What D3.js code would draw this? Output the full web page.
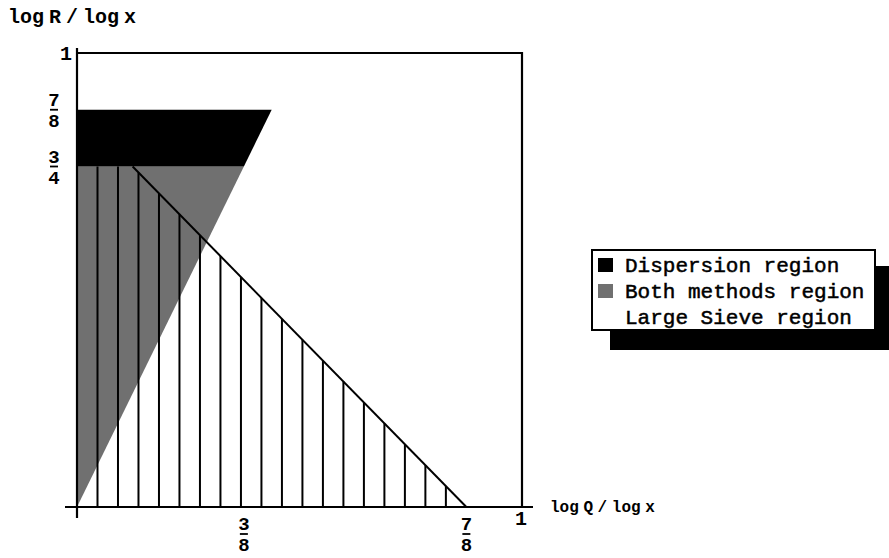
<!DOCTYPE html>
<html>
<head>
    <title>Dispersion / Large Sieve regions</title>
    <script src="https://d3js.org/d3.v7.min.js" type="text/javascript"></script>
    <style type="text/css">
        body { margin: 0; background: #fff; }
        text { font-family: "Liberation Mono", "DejaVu Sans Mono", monospace; fill: #000; }
    </style>
</head>
<body>
<div id="chart"></div>
<script type="text/javascript">
    // tick values and their labels (fractions are [numerator, denominator])
    var xTickValues = [3/8, 7/8, 1];
    var xTickLabels = [["3", "8"], ["7", "8"], ["1"]];
    var yTickValues = [3/4, 7/8, 1];
    var yTickLabels = [["3", "4"], ["7", "8"], ["1"]];

    // regions in (logQ/logx, logR/logx)
    var dispersionRegion = [[0, 3/4], [3/8, 3/4], [7/16, 7/8], [0, 7/8]];
    var bothRegion = [[0, 0], [3/8, 3/4], [0, 3/4]];
    var sieveEdge = [[1/8, 3/4], [7/8, 0]];   // logQ + logR = 7/8
    var sieveTop = 3/4;
    var hatchSteps = 19;

    var legendLabels = ["Dispersion region", "Both methods region", "Large Sieve region"];
    var legendFills = ["#000", "#707070", "none"];

    var width = 889, height = 558;
    var svg = d3.select('#chart').append('svg')
        .attr('width', width)
        .attr('height', height);

    var x = d3.scaleLinear().domain([0, 1]).range([77, 522]);
    var y = d3.scaleLinear().domain([0, 1]).range([507, 53]);
    var line = d3.line().x(function(d) { return x(d[0]); }).y(function(d) { return y(d[1]); });

    // filled regions
    svg.append('path').datum(bothRegion)
        .attr('d', function(d) { return line(d) + 'Z'; })
        .attr('fill', '#707070');
    svg.append('path').datum(dispersionRegion)
        .attr('d', function(d) { return line(d) + 'Z'; })
        .attr('fill', '#000');

    // vertical hatching of the large sieve region
    var x0 = sieveEdge[1][0];
    var hatch = d3.range(1, hatchSteps).map(function(k) { return k * x0 / hatchSteps; });
    svg.selectAll('line.hatch').data(hatch).enter().append('line')
        .attr('class', 'hatch')
        .attr('x1', function(d) { return x(d); })
        .attr('x2', function(d) { return x(d); })
        .attr('y1', y(0))
        .attr('y2', function(d) { return y(Math.min(sieveTop, x0 - d)); })
        .attr('stroke', '#000')
        .attr('stroke-width', 2);

    svg.append('path').datum(sieveEdge)
        .attr('d', line)
        .attr('stroke', '#000')
        .attr('stroke-width', 2)
        .attr('fill', 'none');

    // frame (top and right) plus axes
    svg.append('path')
        .attr('d', 'M' + x(0) + ',' + y(1) + 'H' + x(1) + 'V' + y(0))
        .attr('stroke', '#000').attr('stroke-width', 2.2).attr('fill', 'none');
    svg.append('line')
        .attr('x1', x(0) - 12).attr('x2', x(1) + 11)
        .attr('y1', y(0)).attr('y2', y(0))
        .attr('stroke', '#000').attr('stroke-width', 2.2);
    svg.append('line')
        .attr('x1', x(0)).attr('x2', x(0))
        .attr('y1', y(0) + 11).attr('y2', y(1) - 5)
        .attr('stroke', '#000').attr('stroke-width', 2.2);

    // fraction label: bar centred at (cx, cy)
    function fraction(g, cx, cy, lab) {
        g.append('text').attr('x', cx).attr('y', cy - 4)
            .attr('text-anchor', 'middle').attr('font-size', 19).attr('font-weight', 'bold')
            .text(lab[0]);
        g.append('line')
            .attr('x1', cx - 4).attr('x2', cx + 4).attr('y1', cy).attr('y2', cy)
            .attr('stroke', '#000').attr('stroke-width', 1.8);
        g.append('text').attr('x', cx).attr('y', cy + 17)
            .attr('text-anchor', 'middle').attr('font-size', 19).attr('font-weight', 'bold')
            .text(lab[1]);
    }

    var tl = svg.append('g');
    xTickValues.forEach(function(v, i) {
        var lab = xTickLabels[i];
        if (lab.length == 2) {
            fraction(tl, x(v), y(0) + 27, lab);
        } else {
            tl.append('text').attr('x', x(v) - 1).attr('y', y(0) + 18)
                .attr('text-anchor', 'middle').attr('font-size', 20).attr('font-weight', 'bold')
                .text(lab[0]);
        }
    });
    yTickValues.forEach(function(v, i) {
        var lab = yTickLabels[i];
        if (lab.length == 2) {
            fraction(tl, 54, y(v), lab);
        } else {
            tl.append('text').attr('x', 72).attr('y', y(v) + 7)
                .attr('text-anchor', 'end').attr('font-size', 20).attr('font-weight', 'bold')
                .text(lab[0]);
        }
    });

    // axis titles
    svg.append('text').attr('x', 8).attr('y', 23)
        .attr('font-size', 20).attr('font-weight', 'bold')
        .attr('word-spacing', -7)
        .text('log R / log x');
    svg.append('text').attr('x', 550).attr('y', 512)
        .attr('font-size', 16).attr('font-weight', 'bold')
        .attr('word-spacing', -5)
        .text('log Q / log x');

    // legend with drop shadow
    var lg = svg.append('g');
    lg.append('rect').attr('x', 610).attr('y', 266).attr('width', 285).attr('height', 84).attr('fill', '#000');
    lg.append('rect').attr('x', 592).attr('y', 250).attr('width', 283).attr('height', 80)
        .attr('fill', '#fff').attr('stroke', '#000').attr('stroke-width', 2);
    legendLabels.forEach(function(t, i) {
        var cy = 265 + i * 26;
        if (legendFills[i] != 'none') {
            lg.append('rect').attr('x', 598).attr('y', cy - 7).attr('width', 15).attr('height', 14)
                .attr('fill', legendFills[i]);
        }
        lg.append('text').attr('x', 625).attr('y', cy + 7)
            .attr('font-size', 21)
            .attr('stroke', '#000').attr('stroke-width', 0.5)
            .text(t);
    });
</script>
</body>
</html>
